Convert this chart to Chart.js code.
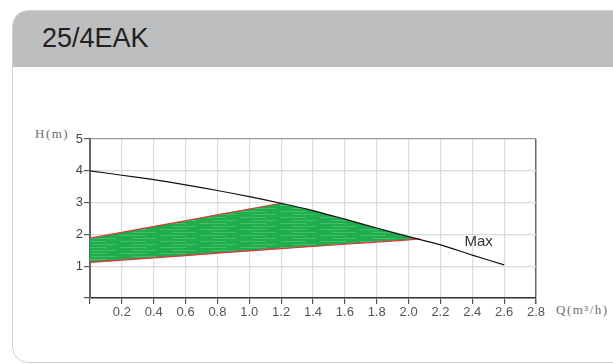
<!DOCTYPE html>
<html>
<head>
<meta charset="utf-8">
<script src="https://cdn.jsdelivr.net/npm/chart.js@4.4.0/dist/chart.umd.min.js"></script>
<style>
  body { margin:0; width:613px; height:364px; background:#fff; overflow:hidden; position:relative; }
  .card { position:absolute; left:12px; top:10px; width:640px; height:353px; border:1.5px solid #d2d2d4; border-radius:16px 0 0 16px; box-sizing:border-box; overflow:hidden; }
  .head { position:absolute; left:0; top:0; right:0; height:56px; background:#bdbec0; }
  .head span { position:absolute; left:29px; top:12px; font:27px "Liberation Sans", Arial, sans-serif; color:#231f20; }
  .lbl { position:absolute; font:13px "Liberation Serif", "DejaVu Serif", serif; color:#6d6d6d; white-space:nowrap; letter-spacing:1.5px; }
  #wrap { position:absolute; left:0; top:0; width:613px; height:364px; }
</style>
</head>
<body>
<div class="card"><div class="head"><span>25/4EAK</span></div></div>
<div class="lbl" style="left:35px; top:126px;">H(m)</div>
<div class="lbl" style="left:556px; top:302px;">Q(m³/h)</div>
<div id="wrap"><canvas id="myChart"></canvas></div>
<script>
// flow Q (m3/h) and head H (m)
var maxQ = [0, 0.2, 0.4, 0.6, 0.8, 1.0, 1.2, 1.4, 1.6, 1.8, 2.0, 2.2, 2.4, 2.6];
var maxH = [4.0, 3.86, 3.72, 3.56, 3.38, 3.19, 2.98, 2.75, 2.48, 2.2, 1.93, 1.67, 1.35, 1.04];

var areaQ   = [0, 0.2, 0.4, 0.6, 0.8, 1.0, 1.2, 1.4, 1.6, 1.8, 2.0, 2.07];
var areaTop = [1.88, 2.07, 2.26, 2.44, 2.63, 2.81, 2.98, 2.75, 2.48, 2.2, 1.93, 1.86];
var areaLow = [1.12, 1.19, 1.26, 1.33, 1.41, 1.48, 1.55, 1.62, 1.69, 1.76, 1.83, 1.86];

var redTopQ = [0, 1.2];
var redTopH = [1.88, 2.98];

var xTicks = [0, 0.2, 0.4, 0.6, 0.8, 1.0, 1.2, 1.4, 1.6, 1.8, 2.0, 2.2, 2.4, 2.6, 2.8];
var yTicks = [0, 1, 2, 3, 4, 5];

function pts(xs, ys) {
    return xs.map(function(x, i){ return {x:x, y:ys[i]}; });
}

// green fill with faint light streaks
var pc = document.createElement("canvas");
pc.width = 40; pc.height = 6;
var pctx = pc.getContext("2d");
pctx.fillStyle = "#1fae4d";
pctx.fillRect(0, 0, 40, 6);
pctx.fillStyle = "rgba(255,255,255,0.18)";
pctx.fillRect(0, 1, 26, 1);
pctx.fillRect(12, 4, 24, 1);
var greenFill = document.getElementById("myChart").getContext("2d").createPattern(pc, "repeat");

var maxLabel = {
    id: "maxLabel",
    afterDatasetsDraw: function(chart) {
        var c = chart.ctx;
        var xs = chart.scales.x, ys = chart.scales.y;
        c.save();
        c.font = '15px "Liberation Sans", Arial, sans-serif';
        c.fillStyle = "#333";
        c.textAlign = "center";
        c.textBaseline = "middle";
        c.fillText("Max", xs.getPixelForValue(2.44), ys.getPixelForValue(1.77));
        c.restore();
    }
};

var myChart = document.getElementById("myChart").getContext("2d");

var pumpChart = new Chart(myChart, {
    type: "line",
    data: {
        datasets: [{
            label: "Max",
            data: pts(maxQ, maxH),
            borderColor: "#111",
            borderWidth: 1.2,
            pointRadius: 0,
            tension: 0.3,
            fill: false,
            order: 0
        }, {
            label: "red top",
            data: pts(redTopQ, redTopH),
            borderColor: "#e8303a",
            borderWidth: 1.2,
            pointRadius: 0,
            fill: false,
            order: 1
        }, {
            label: "low",
            data: pts(areaQ, areaLow),
            borderColor: "#e8303a",
            borderWidth: 1.2,
            pointRadius: 0,
            fill: false,
            order: 2
        }, {
            label: "top",
            data: pts(areaQ, areaTop),
            borderColor: "rgba(0,0,0,0)",
            borderWidth: 0,
            pointRadius: 0,
            backgroundColor: greenFill,
            fill: "-1",
            order: 3
        }]
    },
    options: {
        responsive: true,
        maintainAspectRatio: false,
        animation: false,
        layout: { padding: { left: 62, top: 139, right: 77, bottom: 44 } },
        plugins: { legend: { display: false }, tooltip: { enabled: false } },
        scales: {
            x: {
                type: "linear",
                min: 0, max: 2.8,
                afterBuildTicks: function(s){ s.ticks = xTicks.map(function(v){ return {value:v}; }); },
                afterFit: function(s){ s.height = 22; },
                grid: {
                    color: function(ctx){ return ctx.tick && ctx.tick.value === 2.8 ? "#666" : "#dcdcdc"; },
                    lineWidth: function(ctx){ return ctx.tick && ctx.tick.value === 2.8 ? 1.5 : 1.2; },
                    tickColor: "#555",
                    tickLength: 6
                },
                border: { color: "#333", width: 1.5 },
                ticks: {
                    color: "#555",
                    padding: 1,
                    maxRotation: 0,
                    font: { family: "Liberation Sans", size: 13 },
                    callback: function(v){ return v === 0 ? "" : v.toFixed(1); }
                }
            },
            y: {
                min: 0, max: 5,
                afterBuildTicks: function(s){ s.ticks = yTicks.map(function(v){ return {value:v}; }); },
                afterFit: function(s){ s.width = 28; },
                grid: {
                    color: function(ctx){ return ctx.tick && ctx.tick.value === 5 ? "#999" : "#dcdcdc"; },
                    lineWidth: 1.2,
                    tickColor: "#555",
                    tickLength: 6
                },
                border: { color: "#666", width: 2 },
                ticks: {
                    color: "#444",
                    padding: 1,
                    font: { family: "Liberation Sans", size: 13 },
                    callback: function(v){ return v === 0 ? "" : v; }
                }
            }
        }
    },
    plugins: [maxLabel]
});
</script>
</body>
</html>
